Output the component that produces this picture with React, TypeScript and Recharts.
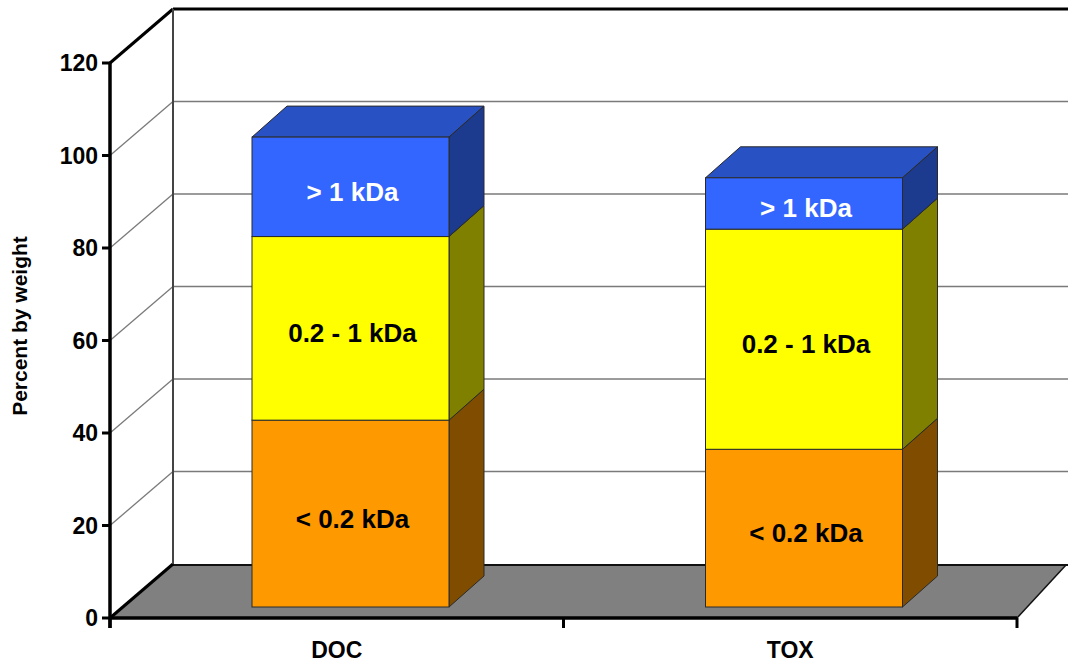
import React from 'react';
import { BarChart, Bar, XAxis, YAxis, Customized } from 'recharts';

// Molecular-weight fractions (percent by weight) for each sample
const categories = ['DOC', 'TOX'];
const lowFraction = [40.4, 34.1]; // < 0.2 kDa
const midFraction = [39.7, 47.6]; // 0.2 - 1 kDa
const highFraction = [21.5, 11.1]; // > 1 kDa
const seriesNames = ['< 0.2 kDa', '0.2 - 1 kDa', '> 1 kDa'];
const yTicks = [0, 20, 40, 60, 80, 100, 120];

const data = categories.map((name, i) => ({
  name,
  low: lowFraction[i],
  mid: midFraction[i],
  high: highFraction[i],
}));

const FONT = '"Liberation Sans", Arial, Helvetica, sans-serif';

// chart frame
const W = 1068;
const H = 663;
const M = { top: 63, right: 51, left: 0, bottom: 0 };
const Y_AXIS_W = 110;
const X_AXIS_H = 45;
const PX0 = M.left + Y_AXIS_W;
const PX1 = W - M.right;
const PY0 = M.top;
const PY1 = H - M.bottom - X_AXIS_H;
const Y_MAX = 120;
const yOf = (v: number) => PY1 - (v / Y_MAX) * (PY1 - PY0);

// depth of the back wall and of the boxes
const WALL_DX = 63;
const WALL_DY = -54;
const BACK_RIGHT = W;
const BAR_SHIFT_X = 14;
const BAR_SHIFT_Y = -11;
const BOX_DX = 35;
const BOX_DY = -31;

const Frame = () => {
  const floorBack = PY1 + WALL_DY;
  const bx0 = PX0 + WALL_DX;
  const bandW = (PX1 - PX0) / categories.length;
  const bounds = [0, 1, 2].slice(0, categories.length + 1).map((i) => PX0 + i * bandW);
  return (
    <g>
      {/* floor */}
      <polygon
        points={`${PX0},${PY1} ${PX1},${PY1} ${BACK_RIGHT - 2},${floorBack + 1} ${bx0},${floorBack + 1}`}
        fill="#808080"
      />
      <line x1={bx0} y1={floorBack + 1} x2={BACK_RIGHT} y2={floorBack + 1} stroke="#111" strokeWidth={2} />
      <line x1={PX1} y1={PY1} x2={BACK_RIGHT - 2} y2={floorBack + 1} stroke="#111" strokeWidth={1.5} />
      {/* back wall grid and left wall diagonals */}
      {yTicks.slice(1).map((v) => {
        const top = v === Y_MAX;
        return (
          <g key={v}>
            <line
              x1={bx0}
              y1={yOf(v) + WALL_DY}
              x2={BACK_RIGHT}
              y2={yOf(v) + WALL_DY}
              stroke={top ? '#000' : '#7a7a7a'}
              strokeWidth={top ? 3 : 1.5}
            />
            <line
              x1={PX0}
              y1={yOf(v)}
              x2={bx0}
              y2={yOf(v) + WALL_DY}
              stroke={top ? '#000' : '#7a7a7a'}
              strokeWidth={top ? 3 : 1.3}
            />
          </g>
        );
      })}
      <line x1={PX0} y1={PY1} x2={bx0} y2={floorBack} stroke="#000" strokeWidth={3} />
      <line x1={bx0} y1={yOf(Y_MAX) + WALL_DY} x2={bx0} y2={floorBack} stroke="#444" strokeWidth={2} />
      {/* front axes */}
      <line x1={PX0} y1={PY0} x2={PX0} y2={PY1 + 10} stroke="#000" strokeWidth={3.5} />
      <line x1={PX0} y1={PY1} x2={PX1} y2={PY1} stroke="#000" strokeWidth={3.5} />
      {bounds.map((bx) => (
        <line key={bx} x1={bx} y1={PY1} x2={bx} y2={PY1 + 10} stroke="#000" strokeWidth={3} />
      ))}
      <text
        x={27}
        y={326}
        transform="rotate(-90, 27, 326)"
        textAnchor="middle"
        fontFamily={FONT}
        fontWeight={700}
        fontSize={21}
        fill="#000"
      >
        Percent by weight
      </text>
    </g>
  );
};

type BoxColors = { front: string; top: string; side: string; text: string };

const makeBox = (label: string, c: BoxColors) => (props: any) => {
  const { x, y, width, height } = props;
  if (width == null || height == null) return null;
  const fx = x + BAR_SHIFT_X;
  const fy = y + BAR_SHIFT_Y;
  const w = width;
  const h = height;
  const edge = '#2a2a2a';
  return (
    <g>
      <polygon
        points={`${fx},${fy} ${fx + BOX_DX},${fy + BOX_DY} ${fx + w + BOX_DX},${fy + BOX_DY} ${fx + w},${fy}`}
        fill={c.top}
        stroke={edge}
        strokeWidth={1}
      />
      <polygon
        points={`${fx + w},${fy} ${fx + w + BOX_DX},${fy + BOX_DY} ${fx + w + BOX_DX},${fy + h + BOX_DY} ${fx + w},${fy + h}`}
        fill={c.side}
        stroke={edge}
        strokeWidth={1}
      />
      <rect x={fx} y={fy} width={w} height={h} fill={c.front} stroke={edge} strokeWidth={1} />
      <text
        x={fx + w / 2 + 2}
        y={fy + h / 2 + 5}
        dominantBaseline="central"
        textAnchor="middle"
        fontFamily={FONT}
        fontWeight={700}
        fontSize={26}
        fill={c.text}
      >
        {label}
      </text>
    </g>
  );
};

const lowBox = makeBox(seriesNames[0], { front: '#FF9900', top: '#CC7A00', side: '#7F4C00', text: '#000' });
const midBox = makeBox(seriesNames[1], { front: '#FFFF00', top: '#CCCC00', side: '#808000', text: '#000' });
const highBox = makeBox(seriesNames[2], { front: '#3366FF', top: '#2852C4', side: '#1C3A8E', text: '#fff' });

const CategoryTick = (props: any) => {
  const { x, y, payload } = props;
  return (
    <text
      x={x}
      y={y + 40}
      textAnchor="middle"
      fontFamily={FONT}
      fontWeight={700}
      fontSize={23}
      fill="#000"
    >
      {payload.value}
    </text>
  );
};

export default function App() {
  return (
    <div style={{ position: 'absolute', left: 0, top: 0, background: '#fff' }}>
      <BarChart width={W} height={H} data={data} margin={M} barSize={197}>
        <Customized component={Frame} />
        <XAxis
          dataKey="name"
          height={X_AXIS_H}
          axisLine={false}
          tickLine={false}
          tickSize={0}
          tickMargin={0}
          tick={<CategoryTick />}
        />
        <YAxis
          width={Y_AXIS_W}
          domain={[0, Y_MAX]}
          ticks={yTicks}
          interval={0}
          axisLine={false}
          tickLine={{ stroke: '#000', strokeWidth: 3 }}
          tickSize={8}
          tickMargin={4}
          tick={{ fontSize: 23, fontWeight: 700, fill: '#000', fontFamily: FONT }}
        />
        <Bar dataKey="low" stackId="a" name={seriesNames[0]} shape={lowBox} isAnimationActive={false} />
        <Bar dataKey="mid" stackId="a" name={seriesNames[1]} shape={midBox} isAnimationActive={false} />
        <Bar dataKey="high" stackId="a" name={seriesNames[2]} shape={highBox} isAnimationActive={false} />
      </BarChart>
    </div>
  );
}
